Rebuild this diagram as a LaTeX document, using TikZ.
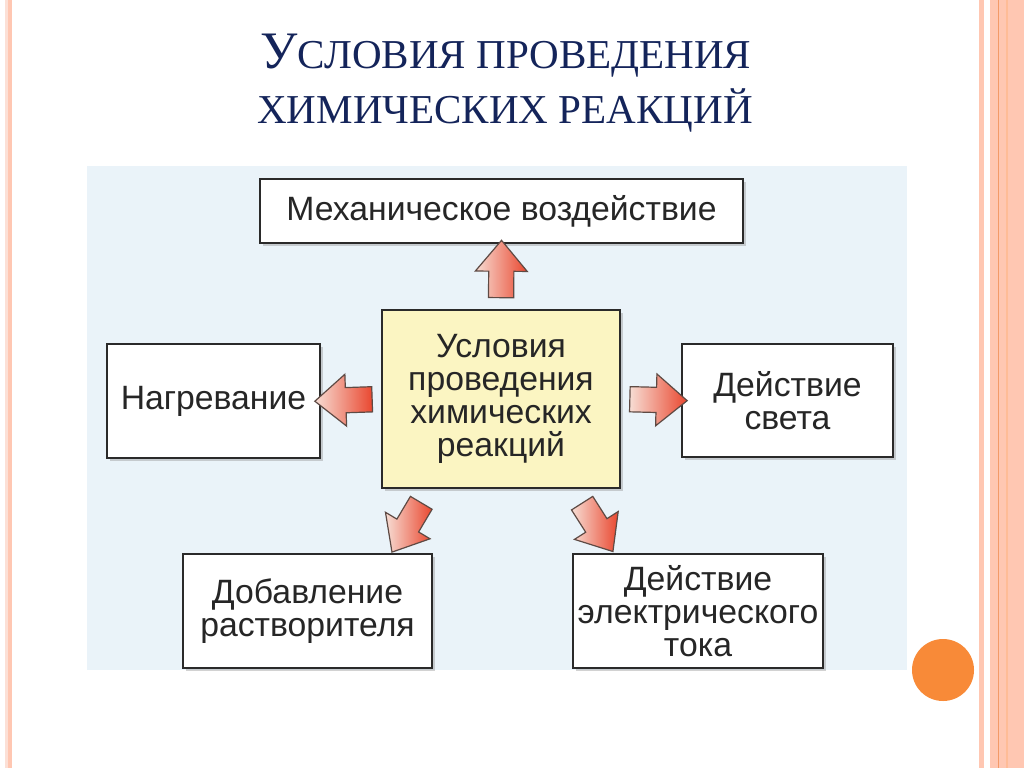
\documentclass[tikz,border=0pt]{standalone}
\usepackage{fontspec}
\setmainfont{Liberation Serif}
\newfontfamily\boxfont{Liberation Sans}
\usetikzlibrary{shapes.arrows,shadows,calc}
\definecolor{navy}{HTML}{14245A}
\definecolor{panelblue}{HTML}{EAF3F9}
\definecolor{boxline}{HTML}{2A2A2A}
\definecolor{centerfill}{HTML}{FBF5C2}
\definecolor{arrowlight}{HTML}{F7DDD4}
\definecolor{arrowred}{HTML}{E9472F}
\definecolor{arrowline}{HTML}{5E4A44}
\definecolor{stripe}{HTML}{FFC7B2}
\definecolor{stripelight}{HTML}{FCE0D6}
\definecolor{stripeorange}{HTML}{F39A68}
\definecolor{dotorange}{HTML}{F88A38}
\newcommand\tbig[1]{{\fontsize{39.5}{39.5}\selectfont #1}}
\newcommand\tsmall[1]{{\fontsize{30.8}{30.8}\selectfont #1}}
\begin{document}
\begin{tikzpicture}[x=0.75pt,y=-0.75pt,
  box/.style={draw=boxline, line width=1.9pt, fill=white,
    font=\boxfont\fontsize{25.3}{24.75}\selectfont, text=black!85,
    align=center, inner sep=0pt,
    drop shadow={shadow xshift=2.5pt, shadow yshift=-2.5pt, opacity=0.35}},
  barrow/.style={single arrow, draw=arrowline, line width=0.9pt,
    minimum height=43pt, minimum width=0pt, inner xsep=0pt, inner ysep=9pt,
    single arrow head extend=10pt, single arrow tip angle=80,
    left color=arrowlight, right color=arrowred,
    sloped, allow upside down, midway},
  titletext/.style={text=navy, anchor=base, inner sep=0pt}
]
\useasboundingbox (0,0) rectangle (1024,768);
\fill[white] (0,0) rectangle (1024,768);
% side stripes
\fill[stripelight] (5,0) rectangle (7.5,768);
\fill[stripe] (8,0) rectangle (12,768);
\fill[stripe] (979,0) rectangle (983.5,768);
\fill[stripe] (990,0) rectangle (1024,768);
\fill[stripeorange] (997.5,0) rectangle (999,768);
\fill[stripe!85!orange] (1006,0) rectangle (1007.5,768);
% orange dot
\fill[dotorange] (943,670) circle (23.25pt);
% title
\node[titletext] (t1) at (506,68) {\tbig{У}\tsmall{СЛОВИЯ ПРОВЕДЕНИЯ}};
\node[titletext] (t2) at (505,123) {\tsmall{ХИМИЧЕСКИХ РЕАКЦИЙ}};
% panel
\fill[panelblue] (87,166) rectangle (907,670);
% boxes
\node[box, minimum width=362.25pt, minimum height=48pt] (m) at (501.5,211) {Механическое воздействие};
\node[box, fill=centerfill, minimum width=178.5pt, minimum height=133.5pt] (c) at (501,399) {Условия\\проведения\\химических\\реакций};
\node[box, minimum width=159.75pt, minimum height=85.5pt] (n) at (213.5,401) {Нагревание};
\node[box, minimum width=158.25pt, minimum height=84.75pt] (s) at (787.5,400.5) {Действие\\света};
\node[box, minimum width=186.75pt, minimum height=85.5pt] (d) at (307.5,611) {Добавление\\растворителя};
\node[box, minimum width=187.5pt, minimum height=85.5pt] (e) at (698,611) {Действие\\электрического\\тока};
% block arrows
\path (c.north) -- (m.south) node[barrow] {};
\path (c.west) -- (n.east) node[barrow] {};
\path (c.east) -- (s.west) node[barrow] {};
\path ($(c.south)+(-71.7,0)$) -- ($(d.north)+(84.1,0)$) node[barrow] {};
\path ($(c.south)+(72.3,0)$) -- ($(e.north)+(-84.3,0)$) node[barrow] {};
\end{tikzpicture}
\end{document}
